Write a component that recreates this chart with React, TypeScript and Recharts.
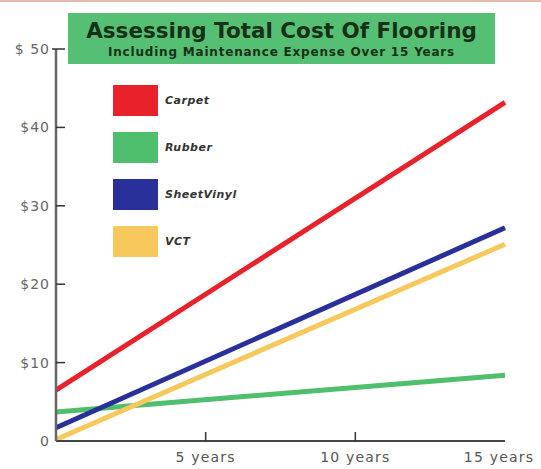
import React from 'react';
import { LineChart, Line, XAxis, YAxis } from 'recharts';

const years = [0, 15];
const carpet = [6.5, 43.2];
const rubber = [3.7, 8.4];
const sheetVinyl = [1.7, 27.2];
const vct = [0.2, 25.1];

const yTicks = [0, 10, 20, 30, 40, 50];
const yTickLabels = ['0', '$10', '$20', '$30', '$40', '$ 50'];
const xTicks = [5, 10, 15];
const xTickLabels = ['5 years', '10 years', '15 years'];

const series = [
  { key: 'carpet', name: 'Carpet', color: '#e8212b' },
  { key: 'rubber', name: 'Rubber', color: '#4fbe6d' },
  { key: 'sheetVinyl', name: 'SheetVinyl', color: '#29309a' },
  { key: 'vct', name: 'VCT', color: '#f7c85c' },
];

const data = years.map((y, i) => ({
  year: y,
  carpet: carpet[i],
  rubber: rubber[i],
  sheetVinyl: sheetVinyl[i],
  vct: vct[i],
}));

const FONT = '"DejaVu Sans", Verdana, sans-serif';

function YTick(props: any) {
  const { x, y, payload } = props;
  const idx = yTicks.indexOf(payload.value);
  const ax = x + 6;
  return (
    <g>
      {payload.value !== 0 && (
        <line
          x1={payload.value === 50 ? ax - 4 : ax}
          x2={ax + 9}
          y1={y}
          y2={y}
          stroke="#333"
          strokeWidth={1.5}
        />
      )}
      <text
        x={x}
        y={y + 5}
        textAnchor="end"
        fill="#666"
        fontSize={14}
        letterSpacing={1}
        fontFamily={FONT}
      >
        {yTickLabels[idx]}
      </text>
    </g>
  );
}

function XTick(props: any) {
  const { x, y, payload } = props;
  const idx = xTicks.indexOf(payload.value);
  const ay = y - 6;
  return (
    <g>
      {payload.value !== 15 && (
        <line x1={x} x2={x} y1={ay} y2={ay - 9} stroke="#333" strokeWidth={1.5} />
      )}
      <text
        x={payload.value === 15 ? x - 6 : x}
        y={y + 15}
        textAnchor="middle"
        fill="#555"
        fontSize={14}
        letterSpacing={1.2}
        fontFamily={FONT}
      >
        {xTickLabels[idx]}
      </text>
    </g>
  );
}

export default function App() {
  return (
    <div
      style={{
        position: 'absolute',
        left: 0,
        top: 0,
        width: 541,
        height: 469,
        background: '#fff',
        overflow: 'hidden',
        borderTop: '2px solid #e7b9aa',
        boxSizing: 'border-box',
      }}
    >
      <div style={{ position: 'absolute', left: 0, top: -2 }}>
        <LineChart
          width={541}
          height={469}
          data={data}
          margin={{ top: 49, right: 36, bottom: 0, left: 0 }}
        >
          <XAxis
            dataKey="year"
            type="number"
            domain={[0, 15]}
            ticks={xTicks}
            xAxisId="bottom"
            height={28}
            axisLine={{ stroke: '#444', strokeWidth: 2 }}
            tickLine={false}
            tickSize={0}
            tickMargin={6}
            tick={<XTick />}
            interval={0}
          />
          <XAxis
            dataKey="year"
            type="number"
            domain={[0, 15]}
            xAxisId="top"
            orientation="top"
            height={0}
            axisLine={{ stroke: '#444', strokeWidth: 2 }}
            tick={false}
            tickLine={false}
          />
          <YAxis
            yAxisId="left"
            type="number"
            domain={[0, 50]}
            ticks={yTicks}
            width={56}
            axisLine={{ stroke: '#666', strokeWidth: 2.5 }}
            tickLine={false}
            tickSize={0}
            tickMargin={6}
            tick={<YTick />}
            interval={0}
          />
          <YAxis
            yAxisId="right"
            orientation="right"
            type="number"
            domain={[0, 50]}
            width={0}
            axisLine={{ stroke: '#444', strokeWidth: 2 }}
            tick={false}
            tickLine={false}
          />
          {series.map((s) => (
            <Line
              key={s.key}
              xAxisId="bottom"
              yAxisId="left"
              type="linear"
              dataKey={s.key}
              name={s.name}
              stroke={s.color}
              strokeWidth={5}
              dot={false}
              activeDot={false}
              isAnimationActive={false}
            />
          ))}
        </LineChart>
      </div>

      <div
        style={{
          position: 'absolute',
          left: 68,
          top: 11,
          width: 427,
          height: 51,
          background: '#55c074',
          textAlign: 'center',
          fontFamily: FONT,
          fontWeight: 'bold',
          color: '#173017',
        }}
      >
        <div style={{ fontSize: 21.5, lineHeight: '24px', marginTop: 6 }}>
          Assessing Total Cost Of Flooring
        </div>
        <div style={{ fontSize: 12, lineHeight: '14px', marginTop: 2, letterSpacing: 0.8 }}>
          Including Maintenance Expense Over 15 Years
        </div>
      </div>

      {series.map((s, i) => (
        <div
          key={s.key}
          style={{
            position: 'absolute',
            left: 113,
            top: 83 + i * 47,
            height: 31,
            display: 'flex',
            alignItems: 'center',
            fontFamily: FONT,
          }}
        >
          <div style={{ width: 45, height: 31, background: s.color }} />
          <span
            style={{
              marginLeft: 7,
              fontSize: 11,
              fontStyle: 'italic',
              fontWeight: 'bold',
              letterSpacing: 0.5,
              color: '#333',
            }}
          >
            {s.name}
          </span>
        </div>
      ))}
    </div>
  );
}
